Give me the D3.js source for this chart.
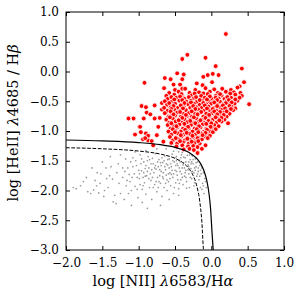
<!DOCTYPE html>
<html>
<head>
<meta charset="utf-8">
<script src="https://cdn.jsdelivr.net/npm/d3@7"></script>
<style>
  body { margin: 0; background: #fff; }
  text { font-family: "DejaVu Serif", serif; fill: #000; }
</style>
</head>
<body>
<div id="container"></div>
<script>
// ticks
const xTicks = [-2.0, -1.5, -1.0, -0.5, 0.0, 0.5, 1.0];
const yTicks = [-3.0, -2.5, -2.0, -1.5, -1.0, -0.5, 0.0, 0.5, 1.0];

// demarcation curves
const solidX = [-2.0, -1.5, -1.0, -0.7, -0.5, -0.4, -0.3, -0.2, -0.15, -0.1, -0.06, -0.03, -0.01, 0.01, 0.026];
const solidY = [-1.151, -1.166, -1.194, -1.230, -1.274, -1.310, -1.365, -1.462, -1.544, -1.673, -1.848, -2.071, -2.313, -2.716, -3.0];
const dashX = [-2.0, -1.5, -1.0, -0.7, -0.5, -0.4, -0.3, -0.25, -0.2, -0.16, -0.13, -0.11, -0.108];
const dashY = [-1.281, -1.299, -1.337, -1.388, -1.459, -1.526, -1.645, -1.750, -1.924, -2.177, -2.533, -2.969, -3.0];

// red points: [log NII/Ha, log HeII/Hb]
const redPoints = [
  [0.20,0.63],[-0.33,0.28],[-0.40,0.21],[-0.08,0.23],[0.06,0.09],[0.42,0.05],[0.45,-0.18],[-0.47,-0.03],
  [-0.38,-0.05],[-0.40,-0.13],[-0.64,-0.11],[-0.56,-0.13],[-0.92,-0.19],[-0.52,-0.22],[-0.43,-0.22],[-0.65,-0.28],
  [-0.40,-0.29],[-0.11,-0.09],[-0.05,-0.06],[0.02,-0.04],[0.10,-0.06],[0.01,-0.18],[-0.20,-0.20],[-0.12,-0.23],
  [0.39,-0.25],[0.52,-0.55],[0.23,-0.87],
  [-1.14,-0.79],[-1.07,-0.79],[-0.96,-0.58],[-0.90,-0.60],[-0.89,-0.69],[-0.93,-0.79],[-0.99,-0.93],[-1.05,-1.06],
  [-0.97,-1.02],[-0.90,-1.04],[-0.87,-1.08],[-0.94,-1.14],[-0.87,-1.16],[-0.78,-0.57],[-0.68,-0.53],[-0.68,-0.64],
  [-0.84,-0.72],[-0.78,-0.79],[-0.71,-0.78],[-0.98,-0.93],[-0.91,-1.12],[-0.82,-1.17],[-0.75,-1.07],[-0.73,-0.93],
  [-0.80,-1.24],[-0.66,-1.18],
  [-0.50,-0.31],[-0.36,-0.29],[-0.22,-0.31],[-0.08,-0.28],[0.04,-0.30],[0.15,-0.29],[0.27,-0.31],[0.36,-0.27],
  [-0.58,-0.36],[-0.45,-0.34],[-0.30,-0.36],[-0.17,-0.35],[-0.02,-0.34],[0.09,-0.36],[0.20,-0.34],[0.31,-0.35],[0.40,-0.36],[-0.11,-0.37],
  [-0.62,-0.41],[-0.51,-0.39],[-0.40,-0.41],[-0.27,-0.40],[-0.14,-0.41],[-0.05,-0.39],[0.06,-0.41],[0.14,-0.40],[0.24,-0.41],[0.33,-0.39],[0.42,-0.41],
  [-0.60,-0.46],[-0.48,-0.44],[-0.37,-0.46],[-0.24,-0.45],[-0.19,-0.47],[-0.09,-0.44],[0.01,-0.46],[0.10,-0.45],[0.18,-0.46],[0.27,-0.44],[0.35,-0.46],[-0.31,-0.43],
  [-0.64,-0.50],[-0.55,-0.51],[-0.44,-0.49],[-0.34,-0.51],[-0.28,-0.49],[-0.20,-0.51],[-0.12,-0.50],[-0.03,-0.51],[0.05,-0.49],[0.12,-0.51],[0.21,-0.50],[0.30,-0.51],[0.36,-0.49],
  [-0.61,-0.56],[-0.50,-0.54],[-0.41,-0.56],[-0.32,-0.55],[-0.24,-0.54],[-0.16,-0.56],[-0.07,-0.55],[0.00,-0.54],[0.08,-0.56],[0.16,-0.55],[0.24,-0.56],[0.32,-0.54],
  [-0.65,-0.61],[-0.56,-0.60],[-0.46,-0.61],[-0.38,-0.59],[-0.29,-0.61],[-0.21,-0.60],[-0.13,-0.61],[-0.04,-0.59],[0.04,-0.61],[0.12,-0.60],[0.20,-0.61],[0.28,-0.59],[0.33,-0.62],
  [-0.60,-0.66],[-0.51,-0.64],[-0.43,-0.66],[-0.35,-0.65],[-0.26,-0.66],[-0.18,-0.64],[-0.10,-0.66],[-0.02,-0.65],[0.07,-0.66],[0.15,-0.64],[0.23,-0.66],[0.30,-0.65],
  [-0.64,-0.70],[-0.55,-0.71],[-0.47,-0.69],[-0.39,-0.71],[-0.31,-0.70],[-0.23,-0.71],[-0.15,-0.69],[-0.07,-0.71],[0.01,-0.70],[0.09,-0.71],[0.17,-0.69],[0.25,-0.71],
  [-0.59,-0.76],[-0.50,-0.74],[-0.42,-0.76],[-0.34,-0.75],[-0.27,-0.76],[-0.19,-0.74],[-0.11,-0.76],[-0.03,-0.75],[0.05,-0.76],[0.13,-0.74],[0.21,-0.76],
  [-0.62,-0.81],[-0.53,-0.79],[-0.45,-0.81],[-0.37,-0.80],[-0.29,-0.81],[-0.21,-0.79],[-0.13,-0.81],[-0.06,-0.80],[0.02,-0.81],[0.10,-0.79],[0.18,-0.81],
  [-0.58,-0.86],[-0.49,-0.84],[-0.41,-0.86],[-0.33,-0.85],[-0.25,-0.86],[-0.17,-0.84],[-0.09,-0.86],[-0.01,-0.85],[0.07,-0.86],[0.14,-0.84],
  [-0.60,-0.90],[-0.52,-0.91],[-0.44,-0.89],[-0.36,-0.91],[-0.28,-0.90],[-0.20,-0.91],[-0.12,-0.89],[-0.04,-0.91],[0.04,-0.90],[0.10,-0.92],
  [-0.56,-0.96],[-0.47,-0.94],[-0.39,-0.96],[-0.31,-0.95],[-0.23,-0.96],[-0.15,-0.94],[-0.07,-0.96],[0.01,-0.95],[0.06,-0.97],
  [-0.59,-1.01],[-0.50,-0.99],[-0.42,-1.01],[-0.34,-1.00],[-0.26,-1.01],[-0.18,-0.99],[-0.10,-1.01],[-0.03,-1.00],[0.02,-1.02],
  [-0.55,-1.06],[-0.46,-1.04],[-0.38,-1.06],[-0.30,-1.05],[-0.22,-1.06],[-0.14,-1.04],[-0.06,-1.06],[-0.02,-1.08],
  [-0.57,-1.10],[-0.49,-1.11],[-0.41,-1.09],[-0.33,-1.11],[-0.25,-1.10],[-0.17,-1.11],[-0.09,-1.09],[-0.05,-1.12],
  [-0.53,-1.16],[-0.45,-1.14],[-0.37,-1.16],[-0.29,-1.15],[-0.21,-1.16],[-0.13,-1.14],
  [-0.55,-1.20],[-0.47,-1.21],[-0.39,-1.19],[-0.31,-1.21],[-0.23,-1.20],[-0.16,-1.21],
  [-0.48,-1.26],[-0.40,-1.24],[-0.32,-1.26],[-0.25,-1.25],[-0.19,-1.27],
  [-0.38,-1.31],[-0.30,-1.30],[-0.24,-1.32],[-0.19,-1.37],[-0.13,-1.30],[-0.08,-1.24],
  [-0.41,-0.38],[-0.23,-0.37],[-0.05,-0.38],[0.12,-0.38],[0.26,-0.37],
  [-0.55,-0.43],[-0.43,-0.42],[-0.21,-0.43],[-0.02,-0.42],[0.06,-0.44],[0.22,-0.43],[0.39,-0.44],
  [-0.51,-0.47],[-0.40,-0.48],[-0.16,-0.48],[-0.06,-0.47],[0.08,-0.48],[0.24,-0.48],[0.33,-0.47],
  [-0.58,-0.53],[-0.37,-0.53],[-0.28,-0.52],[-0.11,-0.53],[0.04,-0.52],[0.20,-0.53],[0.28,-0.52],
  [-0.52,-0.58],[-0.42,-0.57],[-0.25,-0.58],[-0.09,-0.57],[0.08,-0.58],[0.16,-0.57],[0.25,-0.58],
  [-0.55,-0.63],[-0.39,-0.62],[-0.22,-0.63],[-0.06,-0.62],[0.02,-0.63],[0.19,-0.62],[0.27,-0.63],
  [-0.56,-0.67],[-0.43,-0.68],[-0.27,-0.67],[-0.14,-0.68],[0.04,-0.67],[0.12,-0.68],[0.21,-0.67],
  [-0.52,-0.72],[-0.35,-0.73],[-0.19,-0.72],[-0.03,-0.73],[0.08,-0.72],[0.17,-0.73],
  [-0.57,-0.77],[-0.40,-0.78],[-0.24,-0.77],[-0.08,-0.78],[0.06,-0.77],[0.14,-0.78],
  [-0.45,-0.82],[-0.29,-0.83],[-0.15,-0.82],[-0.04,-0.83],[0.11,-0.82],
  [-0.55,-0.87],[-0.37,-0.88],[-0.22,-0.87],[-0.07,-0.88],[0.00,-0.87],
  [-0.48,-0.92],[-0.32,-0.93],[-0.17,-0.92],[-0.01,-0.93],
  [-0.53,-0.97],[-0.36,-0.98],[-0.20,-0.97],[-0.06,-0.98],
  [-0.50,-1.02],[-0.34,-1.03],[-0.18,-1.02],[-0.08,-1.03],
  [-0.42,-1.07],[-0.26,-1.08],[-0.12,-1.07],
  [-0.49,-1.12],[-0.33,-1.13],[-0.19,-1.12],
  [-0.43,-1.17],[-0.27,-1.18],[-0.18,-1.17]
];

// grey points below the curves
const greyPoints = [
  [-1.86,-1.97],[-1.72,-1.78],[-1.62,-1.99],[-1.57,-1.70],[-1.35,-2.19],[-1.39,-1.43],[-1.80,-1.92],[-1.66,-2.05],
  [-1.53,-1.88],[-1.48,-2.10],[-1.45,-1.62],[-1.42,-1.95],[-1.31,-2.22],[-1.28,-1.55],[-1.25,-2.05],[-1.22,-1.78],
  [-1.18,-1.47],[-1.50,-1.52],[-1.60,-1.83],[-1.36,-1.81],[-1.33,-2.08],[-1.20,-2.15],[-1.70,-2.02],[-1.55,-2.04],[-1.40,-1.75],
  [-1.15,-1.62],[-1.12,-1.85],[-1.10,-2.00],[-1.08,-1.45],[-1.06,-1.72],[-1.05,-1.93],[-1.03,-1.58],[-1.01,-2.12],
  [-0.99,-1.80],[-0.98,-1.40],[-0.96,-1.67],[-0.95,-1.98],[-0.93,-1.52],[-0.92,-1.87],[-0.90,-2.06],[-0.89,-1.75],
  [-0.87,-1.43],[-0.86,-1.62],[-0.85,-1.95],[-0.83,-1.83],[-0.82,-2.15],[-0.80,-1.55],[-0.79,-1.70],[-0.78,-1.90],
  [-0.77,-1.38],[-0.75,-2.02],[-0.74,-1.78],[-0.73,-1.60],[-0.72,-1.48],[-0.70,-1.88],[-0.69,-1.68],[-0.68,-2.10],
  [-0.67,-1.53],[-0.66,-1.80],[-0.65,-1.95],[-0.64,-1.42],[-0.63,-1.65],[-0.62,-1.74],[-0.61,-2.00],[-0.60,-1.57],
  [-0.59,-1.85],[-0.58,-1.47],[-0.57,-1.70],[-0.56,-1.92],[-0.55,-1.60],[-0.54,-1.39],[-0.53,-1.78],[-0.52,-2.05],
  [-0.51,-1.52],[-0.50,-1.66],[-0.49,-1.87],[-0.48,-1.43],[-0.47,-1.74],[-0.46,-1.58],[-0.45,-1.97],[-0.44,-1.49],
  [-0.43,-1.68],[-0.42,-1.82],[-0.41,-1.40],[-0.40,-1.62],[-0.39,-1.90],[-0.38,-1.53],[-0.37,-1.76],[-0.36,-1.45],
  [-0.35,-1.66],[-0.34,-1.85],[-0.33,-1.41],[-0.32,-1.57],[-0.31,-1.72],[-0.30,-1.95],[-0.29,-1.48],[-0.28,-1.63],
  [-0.27,-1.80],[-0.26,-1.42],[-0.25,-1.55],[-0.24,-1.70],[-0.23,-1.87],[-0.22,-1.47],[-0.21,-1.60],[-0.20,-1.76],
  [-0.19,-1.52],[-0.18,-1.68],[-0.17,-1.82],[-0.16,-1.58],[-0.15,-1.95],[-0.14,-1.72],[-0.13,-1.62],[-0.12,-1.88],
  [-0.11,-1.70],[-0.10,-2.05],[-0.09,-1.80],[-0.08,-1.85],[-0.07,-1.95],
  [-0.97,-1.55],[-0.94,-1.78],[-0.91,-1.63],[-0.88,-1.50],[-0.84,-1.72],[-0.81,-1.46],[-0.76,-1.64],[-0.71,-1.75],
  [-0.68,-1.45],[-0.62,-1.55],[-0.58,-1.62],[-0.55,-1.73],[-0.50,-1.45],[-0.47,-1.55],[-0.44,-1.62],[-0.41,-1.72],
  [-0.38,-1.44],[-0.35,-1.52],[-0.32,-1.65],[-0.30,-1.40],[-0.28,-1.55],[-0.25,-1.48],[-0.22,-1.66],[-0.40,-1.36],
  [-0.33,-1.34],[-0.27,-1.40],[-0.45,-1.35],[-0.52,-1.34],
  [-1.10,-2.25],[-0.95,-2.20],[-0.70,-2.25],[-0.58,-2.15],[-0.45,-2.08],[-0.88,-2.30],[-1.25,-1.40],[-1.05,-1.35],
  [-0.90,-1.33],[-0.75,-1.30],[-0.62,-1.30],
  [-1.00,-1.66],[-0.98,-1.90],[-0.93,-1.70],[-0.90,-1.58],[-0.86,-1.80],[-0.83,-1.55],[-0.80,-1.95],[-0.78,-1.62],
  [-0.74,-1.52],[-0.72,-1.85],[-0.69,-1.58],[-0.66,-1.70],[-0.63,-1.88],[-0.60,-1.48],[-0.57,-1.80],[-0.54,-1.66],
  [-0.51,-1.95],[-0.49,-1.58],[-0.46,-1.82],[-0.43,-1.52],[-0.40,-1.78],[-0.37,-1.62],[-0.34,-1.96],[-0.31,-1.52],
  [-0.29,-1.78],[-0.26,-1.68],[-0.24,-1.92],[-0.21,-1.53],[-0.18,-1.62],[-0.16,-1.76],[-0.13,-1.98],[-0.36,-1.70],
  [-0.42,-1.45],[-0.48,-1.68],[-0.53,-1.50],[-0.59,-1.72],[-0.64,-1.60],[-0.70,-1.53],[-0.76,-1.85],[-0.82,-1.65],
  [-1.02,-1.78],[-1.08,-1.60],[-1.13,-1.73],[-1.17,-1.92],[-1.22,-1.62],[-1.27,-1.88],[-1.30,-1.70],[-1.38,-1.60],
  [-1.44,-1.80],[-1.47,-2.00],[-1.52,-1.72],[-1.58,-1.92],[-1.64,-1.62],[-1.76,-1.85],[-1.90,-1.95],
  [-1.19,-1.68],[-1.16,-1.83],[-1.14,-2.05],[-1.11,-1.52],[-1.09,-1.78],[-1.04,-1.50],[-1.02,-1.98],[-0.99,-1.72],
  [-0.96,-1.47],[-0.94,-1.92],[-0.91,-1.76],[-0.88,-1.68],[-0.85,-1.48],[-0.81,-1.78],[-0.77,-1.58],[-0.73,-1.95],
  [-0.71,-1.65],[-0.67,-1.77],[-0.65,-1.50],[-0.61,-1.82],[-0.56,-1.55],[-0.52,-1.72],[-0.48,-1.50],[-0.44,-1.88],
  [-0.39,-1.57],[-0.35,-1.78],[-0.31,-1.60],[-0.27,-1.52],[-0.23,-1.62],[-0.19,-1.72],[-0.15,-1.66],[-0.11,-1.92]
];

const width = 299;
const height = 299;
const plotLeft = 66, plotRight = 284, plotTop = 12, plotBottom = 250;

const xScale = d3.scaleLinear().domain([-2, 1]).range([plotLeft, plotRight]);
const yScale = d3.scaleLinear().domain([-3, 1]).range([plotBottom, plotTop]);

const svg = d3.select("#container").append("svg")
  .attr("width", width).attr("height", height);

svg.append("clipPath").attr("id", "plotclip")
  .append("rect")
  .attr("x", plotLeft).attr("y", plotTop)
  .attr("width", plotRight - plotLeft).attr("height", plotBottom - plotTop);

const plot = svg.append("g").attr("clip-path", "url(#plotclip)");

// grey dots
plot.append("g").selectAll("circle")
  .data(greyPoints)
  .enter().append("circle")
  .attr("cx", d => xScale(d[0]))
  .attr("cy", d => yScale(d[1]))
  .attr("r", 0.85)
  .style("fill", "#555")
  .style("opacity", 0.6);

// red dots
plot.append("g").selectAll("circle")
  .data(redPoints)
  .enter().append("circle")
  .attr("cx", d => xScale(d[0]))
  .attr("cy", d => yScale(d[1]))
  .attr("r", 2.4)
  .style("fill", "#ff0000")
  .style("stroke", "#fff")
  .style("stroke-width", 0.8);

// curves
const line = d3.line()
  .x(d => xScale(d[0]))
  .y(d => yScale(d[1]))
  .curve(d3.curveMonotoneX);

plot.append("path")
  .datum(solidX.map((x, i) => [x, solidY[i]]))
  .attr("d", line)
  .style("fill", "none")
  .style("stroke", "#000")
  .style("stroke-width", 1.2);

plot.append("path")
  .datum(dashX.map((x, i) => [x, dashY[i]]))
  .attr("d", line)
  .style("fill", "none")
  .style("stroke", "#000")
  .style("stroke-width", 1)
  .style("stroke-dasharray", "3.7,1.6");

// axes, ticks pointing inward on all four sides
const fmt = d3.format(".1f");
const tickLen = 4;

svg.append("g")
  .attr("transform", "translate(0," + plotBottom + ")")
  .call(d3.axisBottom(xScale).tickValues(xTicks).tickFormat(fmt).tickSizeInner(-tickLen).tickSizeOuter(0).tickPadding(8));

svg.append("g")
  .attr("transform", "translate(0," + plotTop + ")")
  .call(d3.axisTop(xScale).tickValues(xTicks).tickFormat("").tickSizeInner(-tickLen).tickSizeOuter(0));

svg.append("g")
  .attr("transform", "translate(" + plotLeft + ",0)")
  .call(d3.axisLeft(yScale).tickValues(yTicks).tickFormat(fmt).tickSizeInner(-tickLen).tickSizeOuter(0).tickPadding(7));

svg.append("g")
  .attr("transform", "translate(" + plotRight + ",0)")
  .call(d3.axisRight(yScale).tickValues(yTicks).tickFormat("").tickSizeInner(-tickLen).tickSizeOuter(0));

svg.selectAll(".tick text")
  .style("font-family", "'DejaVu Serif', serif")
  .style("font-size", "12px");
svg.selectAll(".domain").remove();

svg.append("rect")
  .attr("x", plotLeft).attr("y", plotTop)
  .attr("width", plotRight - plotLeft).attr("height", plotBottom - plotTop)
  .style("fill", "none")
  .style("stroke", "#000")
  .style("stroke-width", 1);

// axis labels
const xl = svg.append("text")
  .attr("x", 163).attr("y", 286)
  .attr("text-anchor", "middle")
  .style("font-size", "14.5px");
xl.append("tspan").text("log [NII] ");
xl.append("tspan").style("font-style", "italic").text("λ");
xl.append("tspan").text("6583/H");
xl.append("tspan").style("font-style", "italic").text("α");

const yl = svg.append("text")
  .attr("transform", "translate(18,123) rotate(-90)")
  .attr("text-anchor", "middle")
  .style("font-size", "14.5px");
yl.append("tspan").text("log [HeII] ");
yl.append("tspan").style("font-style", "italic").text("λ");
yl.append("tspan").text("4685 / H");
yl.append("tspan").style("font-style", "italic").text("β");
</script>
</body>
</html>
